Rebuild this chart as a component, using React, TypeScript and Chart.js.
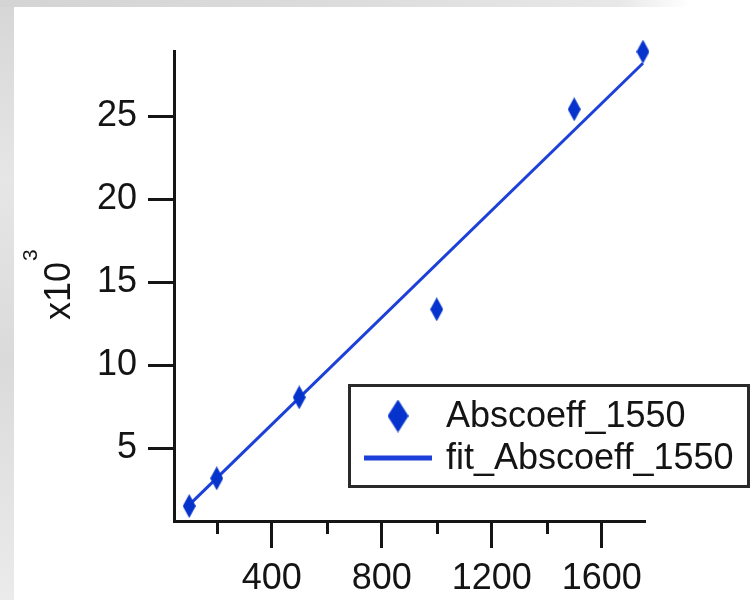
import React, { useEffect, useRef } from "react";
import { Chart, registerables } from "chart.js";

Chart.register(...registerables);

// ---- data ----
const xValues = [100, 200, 500, 1000, 1500, 1750];
const absValues = [1.53, 3.2, 8.08, 13.38, 25.43, 28.9];
const fitX = [100, 1750];
const fitY = [1.6, 28.2];
const xMajorTicks = [400, 800, 1200, 1600];
const xMinorTicks = [200, 600, 1000, 1400];
const yTicks = [5, 10, 15, 20, 25];
const seriesNames = ["Abscoeff_1550", "fit_Abscoeff_1550"];
const yTitleMain = "x10";
const yTitleSup = "3";

const FONT = '"Liberation Sans", Arial, sans-serif';
const POINT_COLOR = "#0633cc";
const LINE_COLOR = "#1c40d8";
const AXIS_COLOR = "#151515";
const TEXT_COLOR = "#141414";

function makeDiamond(w: number, h: number, color: string) {
  const c = document.createElement("canvas");
  c.width = w;
  c.height = h;
  const ctx = c.getContext("2d")!;
  ctx.fillStyle = color;
  ctx.beginPath();
  ctx.moveTo(w / 2, 0);
  ctx.lineTo(w, h / 2);
  ctx.lineTo(w / 2, h);
  ctx.lineTo(0, h / 2);
  ctx.closePath();
  ctx.fill();
  return c;
}

const decorPlugin = {
  id: "decor",
  beforeDraw(chart: any) {
    const ctx = chart.ctx;
    ctx.save();
    ctx.fillStyle = "#ffffff";
    ctx.fillRect(0, 0, chart.width, chart.height);
    // textured grey border strips of the screenshot
    const gl = ctx.createLinearGradient(0, 0, 0, chart.height);
    gl.addColorStop(0, "#d6d6d6");
    gl.addColorStop(0.3, "#e6e6e6");
    gl.addColorStop(0.6, "#dadada");
    gl.addColorStop(1, "#ebebeb");
    ctx.fillStyle = gl;
    ctx.fillRect(0, 0, 14, chart.height);
    const gt = ctx.createLinearGradient(0, 0, 690, 0);
    gt.addColorStop(0, "#d4d4d4");
    gt.addColorStop(0.5, "#dcdcdc");
    gt.addColorStop(0.9, "#e8e8e8");
    gt.addColorStop(1, "#ffffff");
    ctx.fillStyle = gt;
    ctx.fillRect(0, 0, 700, 7);
    ctx.restore();
  },
  afterDraw(chart: any) {
    const ctx = chart.ctx;
    const xs = chart.scales.x;
    ctx.save();
    // minor x ticks
    ctx.strokeStyle = AXIS_COLOR;
    ctx.lineWidth = 3;
    for (const v of xMinorTicks) {
      const px = Math.round(xs.getPixelForValue(v)) + 0.5;
      ctx.beginPath();
      ctx.moveTo(px, xs.top);
      ctx.lineTo(px, xs.top + 13);
      ctx.stroke();
    }
    // y title: x10^3 rotated
    ctx.fillStyle = TEXT_COLOR;
    ctx.translate(70, 320);
    ctx.rotate(-Math.PI / 2);
    ctx.textBaseline = "alphabetic";
    ctx.textAlign = "left";
    ctx.font = `36px ${FONT}`;
    ctx.fillText(yTitleMain, 0, 0);
    const w = ctx.measureText(yTitleMain).width;
    ctx.font = `21px ${FONT}`;
    ctx.fillText(yTitleSup, w + 1, -33);
    ctx.restore();

    // legend
    ctx.save();
    ctx.fillStyle = "#ffffff";
    ctx.fillRect(349, 385, 400, 102);
    ctx.strokeStyle = "#2a2a2a";
    ctx.lineWidth = 3;
    ctx.strokeRect(349.5, 385.5, 399, 101);
    const dia = makeDiamond(21, 33, POINT_COLOR);
    ctx.drawImage(dia, 398 - 10.5, 416 - 16.5);
    ctx.strokeStyle = LINE_COLOR;
    ctx.lineWidth = 5;
    ctx.beginPath();
    ctx.moveTo(364, 458);
    ctx.lineTo(432, 458);
    ctx.stroke();
    ctx.fillStyle = TEXT_COLOR;
    ctx.font = `36px ${FONT}`;
    ctx.textBaseline = "middle";
    ctx.textAlign = "left";
    ctx.fillText(seriesNames[0], 446, 417);
    ctx.fillText(seriesNames[1], 446, 459);
    ctx.restore();
  },
};

export default function App() {
  const ref = useRef<HTMLCanvasElement | null>(null);
  useEffect(() => {
    if (!ref.current) return;
    const diamond = makeDiamond(13, 24, POINT_COLOR);
    const gridCommon = {
      drawOnChartArea: false,
      drawTicks: true,
      tickLength: 27,
      tickWidth: 3,
      tickColor: AXIS_COLOR,
    };
    const chart = new Chart(ref.current, {
      type: "scatter",
      data: {
        datasets: [
          {
            label: seriesNames[0],
            data: xValues.map((x, i) => ({ x, y: absValues[i] })),
            pointStyle: diamond as any,
            pointRadius: 8,
            backgroundColor: POINT_COLOR,
            borderColor: POINT_COLOR,
            showLine: false,
            clip: false as any,
          },
          {
            label: seriesNames[1],
            data: fitX.map((x, i) => ({ x, y: fitY[i] })),
            showLine: true,
            borderColor: LINE_COLOR,
            borderWidth: 3,
            pointRadius: 0,
            clip: false as any,
          },
        ],
      },
      options: {
        animation: false,
        responsive: false,
        events: [],
        layout: { padding: { left: 0, top: 51, right: 107, bottom: 0 } },
        plugins: { legend: { display: false }, tooltip: { enabled: false } },
        scales: {
          x: {
            type: "linear",
            position: "bottom",
            min: 44.7,
            max: 1757.5,
            afterBuildTicks: (s: any) => {
              s.ticks = xMajorTicks.map((v) => ({ value: v }));
            },
            afterFit: (s: any) => {
              s.height = 79;
            },
            grid: gridCommon,
            border: { display: true, color: AXIS_COLOR, width: 3 },
            ticks: {
              autoSkip: false,
              maxRotation: 0,
              padding: 9,
              color: TEXT_COLOR,
              font: { family: FONT, size: 36 },
              callback: (v: any) => String(v),
            },
          },
          y: {
            type: "linear",
            min: 0.63,
            max: 28.94,
            afterBuildTicks: (s: any) => {
              s.ticks = yTicks.map((v) => ({ value: v }));
            },
            afterFit: (s: any) => {
              s.width = 174;
            },
            grid: { ...gridCommon, tickLength: 26 },
            border: { display: true, color: AXIS_COLOR, width: 3 },
            ticks: {
              padding: 11,
              color: TEXT_COLOR,
              font: { family: FONT, size: 36 },
              callback: (v: any) => String(v),
            },
          },
        },
      },
      plugins: [decorPlugin],
    } as any);
    return () => chart.destroy();
  }, []);
  return (
    <div style={{ position: "absolute", left: 0, top: 0, width: 752, height: 600, background: "#fff" }}>
      <canvas ref={ref} width={752} height={600} style={{ display: "block", width: 752, height: 600 }} />
    </div>
  );
}
